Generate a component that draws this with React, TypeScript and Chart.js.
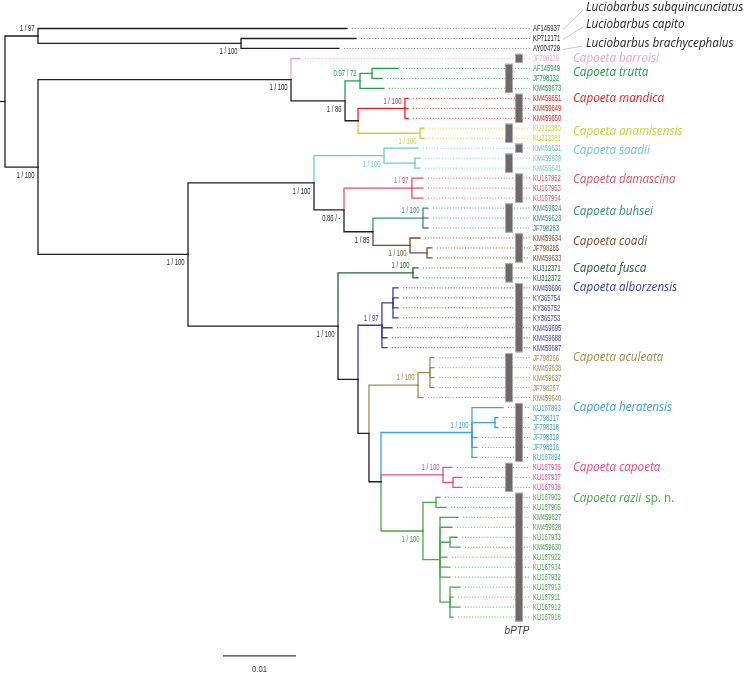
import React, { useEffect, useRef } from "react";
import { Chart, registerables } from "chart.js";
Chart.register(...registerables);

// ---------------- DATA ----------------
const tipNames = [
  "AF145937", "KP712171", "AY004729", "JF798279", "AF145949", "JF798332", "KM459673",
  "KM459651", "KM459649", "KM459650", "KU312380", "KU312381", "KM459631", "KM459639",
  "KM459641", "KU167952", "KU167953", "KU167954", "KM459624", "KM459623", "JF798283",
  "KM459634", "JF798285", "KM459633", "KU312371", "KU312372", "KM459696", "KY365754",
  "KY365752", "KY365753", "KM459695", "KM459688", "KM459687", "JF798266", "KM459638",
  "KM459637", "JF798267", "KM459640", "KU167893", "JF798317", "JF798318", "JF798319",
  "JF798316", "KU167894", "KU167936", "KU167937", "KU167938", "KU167903", "KU167905",
  "KM459627", "KM459628", "KU167933", "KM459630", "KU167922", "KU167934", "KU167932",
  "KU167913", "KU167911", "KU167912", "KU167918",
];

// distance from root (substitutions / site)
const tipDepths = [
  0.04685, 0.04808, 0.04575, 0.04041, 0.05384, 0.05164, 0.05192,
  0.05521, 0.05521, 0.05521, 0.0574, 0.0574, 0.05658, 0.05685,
  0.05685, 0.05726, 0.05726, 0.05726, 0.05795, 0.05795, 0.05795,
  0.05685, 0.05849, 0.05849, 0.05658, 0.05658, 0.05384, 0.05384,
  0.05384, 0.05384, 0.05301, 0.05233, 0.05233, 0.05877, 0.05877,
  0.05877, 0.05877, 0.05726, 0.06822, 0.06753, 0.06753, 0.06466,
  0.06466, 0.06466, 0.06123, 0.0626, 0.0626, 0.05959, 0.06041,
  0.06205, 0.06123, 0.06192, 0.06233, 0.06055, 0.06096, 0.06096,
  0.06233, 0.06137, 0.06233, 0.06137,
];

// clade index per tip (-1 = outgroup / black)
const tipClade = [
  -1, -1, -1, 0, 1, 1, 1, 2, 2, 2, 3, 3, 4, 4, 4, 5, 5, 5, 6, 6, 6, 7, 7, 7, 8, 8,
  9, 9, 9, 9, 9, 9, 9, 10, 10, 10, 10, 10, 11, 11, 11, 11, 11, 11, 12, 12, 12,
  13, 13, 13, 13, 13, 13, 13, 13, 13, 13, 13, 13, 13,
];

// internal nodes n0..n38
const nodeDepths = [
  0, 0.00452, 0.00452, 0.03233, 0.03918, 0.02507, 0.04658, 0.04863, 0.04836, 0.05027,
  0.05479, 0.05685, 0.04233, 0.04562, 0.05192, 0.04644, 0.05616, 0.05575, 0.05041, 0.05726,
  0.05548, 0.05781, 0.05589, 0.04836, 0.05164, 0.04986, 0.05315, 0.05658, 0.05151, 0.05822,
  0.06397, 0.06, 0.05726, 0.06712, 0.06137, 0.05904, 0.05959, 0.06096, 0.06096,
];

const nodeChildren = [
  ["n1", "n2"], ["t0", "n3"], ["n4", "n5"], ["t1", "t2"], ["t3", "n6"], ["n12", "n13"],
  ["n7", "n8"], ["n9", "t6"], ["n10", "n11"], ["t4", "t5"], ["t7", "t8", "t9"], ["t10", "t11"],
  ["n14", "n15"], ["n22", "n23"], ["t12", "n16"], ["n17", "n18"], ["t13", "t14"],
  ["t15", "t16", "t17"], ["n19", "n20"], ["t18", "t19", "t20"], ["t21", "n21"], ["t22", "t23"],
  ["t24", "t25"], ["n24", "n25"], ["n26", "t30", "t31", "t32"], ["n27", "n28"],
  ["t26", "t27", "t28", "t29"], ["n29", "t37"], ["n30", "n31", "n32"], ["t33", "t34", "t35", "t36"],
  ["t38", "n33", "t41", "t42", "t43"], ["t44", "n34"], ["n35", "n36"], ["t39", "t40"],
  ["t45", "t46"], ["t47", "t48"], ["t49", "t50", "n37", "t53", "t54", "t55", "n38"],
  ["t51", "t52"], ["t56", "t57", "t58", "t59"],
];

const nodeSupport = [
  "", "1 / 97", "1 / 100", "1 / 100", "1 / 100", "1 / 100", "1 / 86", "0.97 / 72", "", "",
  "1 / 100", "1 / 100", "1 / 100", "1 / 100", "1 / 100", "0.86 / -", "", "1 / 97", "1 / 85", "1 / 100",
  "1 / 100", "", "1 / 100", "", "1 / 97", "", "", "1 / 100", "", "",
  "1 / 100", "1 / 100", "1 / 100", "", "", "", "", "", "",
];

const nodeClade = [
  -1, -1, -1, -1, -1, -1, -1, 1, -1, 1, 2, 3, -1, -1, 4, -1, 4, 5, -1, 6,
  7, 7, 8, -1, 9, -1, 9, 10, -1, 10, 11, 12, 13, 11, 12, 13, 13, 13, 13,
];

const cladeNames = [
  "Capoeta barroisi", "Capoeta trutta", "Capoeta mandica", "Capoeta anamisensis",
  "Capoeta saadii", "Capoeta damascina", "Capoeta buhsei", "Capoeta coadi",
  "Capoeta fusca", "Capoeta alborzensis", "Capoeta aculeata", "Capoeta heratensis",
  "Capoeta capoeta", "Capoeta razii",
];

const outgroupNames = ["Luciobarbus subquincunciatus", "Luciobarbus capito", "Luciobarbus brachycephalus"];

// bPTP species delimitation blocks (first tip, last tip, column)
const bptpStart = [3, 4, 7, 10, 12, 13, 15, 18, 21, 24, 26, 33, 38, 44, 47];
const bptpEnd = [3, 6, 9, 11, 12, 14, 17, 20, 23, 25, 32, 37, 43, 46, 59];
const bptpColumn = [1, 0, 1, 0, 1, 0, 1, 0, 1, 0, 1, 0, 1, 0, 1];

const scaleBarLength = 0.01;
const scaleBarLabel = "0.01";

// ---------------- STYLE / LAYOUT ----------------
const cladeColors = [
  "#f5a3c3", "#1f9e50", "#ec1f27", "#c8d23c", "#6ecdc8", "#d6566c", "#3c8b86",
  "#7a4b2c", "#27613d", "#3c3fa6", "#a08e52", "#3ea3d2", "#ec4a8c", "#4ca54f",
];
const BLACK = "#231f20";
const X_MIN = -0.000685;
const X_MAX = 0.10288;
const Y_MIN = -2.857;
const Y_MAX = 65.01;
const LEADER_GAP = 0.0007;
const LEADER_END = 0.07192;
const SCALEBAR_X = 0.02986;
const SCALEBAR_ROW = 62.9;
const speciesLabelRow = [3.05, 4.45, 7.05, 10.3, 12.2, 15.1, 18.3, 21.3, 24.1, 26.0, 33.0, 38.0, 44.0, 47.1];
const outgroupLabelRow = [-2.15, -0.45, 1.45];
const supportAbove = [1, 7, 10, 17, 19, 22, 24, 27, 30, 31];

const colorOf = (c: number) => (c < 0 ? BLACK : cladeColors[c]);

// ---------------- TREE GEOMETRY ----------------
function idInfo(id: string) {
  const k = parseInt(id.slice(1), 10);
  return id[0] === "t" ? { tip: true, k } : { tip: false, k };
}
const nodeY: number[] = [];
function yOf(id: string): number {
  const { tip, k } = idInfo(id);
  if (tip) return k;
  if (nodeY[k] !== undefined) return nodeY[k];
  const ch = nodeChildren[k];
  const v = (yOf(ch[0]) + yOf(ch[ch.length - 1])) / 2;
  nodeY[k] = v;
  return v;
}
function depthOf(id: string) {
  const { tip, k } = idInfo(id);
  return tip ? tipDepths[k] : nodeDepths[k];
}
function cladeOfId(id: string) {
  const { tip, k } = idInfo(id);
  return tip ? tipClade[k] : nodeClade[k];
}

function buildDatasets() {
  const ds: any[] = [];
  const rootY = yOf("n0");
  ds.push({
    data: [{ x: X_MIN, y: rootY }, { x: nodeDepths[0], y: rootY }],
    borderColor: BLACK, borderWidth: 1.3, showLine: true, pointRadius: 0,
  });
  nodeChildren.forEach((ch, k) => {
    const nx = nodeDepths[k];
    const ny = yOf("n" + k);
    ch.forEach((c) => {
      const cy = yOf(c);
      const cx = depthOf(c);
      ds.push({
        data: [{ x: nx, y: ny }, { x: nx, y: cy }, { x: cx, y: cy }],
        borderColor: colorOf(cladeOfId(c)), borderWidth: 1.3, showLine: true, pointRadius: 0,
        borderJoinStyle: "miter", borderCapStyle: "square",
      });
    });
  });
  ds.push({
    data: [{ x: SCALEBAR_X, y: SCALEBAR_ROW }, { x: SCALEBAR_X + scaleBarLength, y: SCALEBAR_ROW }],
    borderColor: "#3a3a3a", borderWidth: 1.3, showLine: true, pointRadius: 0,
  });
  tipNames.forEach((_, i) => {
    const c = tipClade[i];
    ds.push({
      data: [{ x: tipDepths[i] + LEADER_GAP, y: i }, { x: LEADER_END, y: i }],
      borderColor: c < 0 ? "#6d6e71" : cladeColors[c], borderWidth: 0.9, borderDash: [1, 1.8],
      showLine: true, pointRadius: 0,
    });
  });
  return ds;
}

function drawText(ctx: CanvasRenderingContext2D, text: string, x: number, y: number, font: string,
  color: string, align: "left" | "right" | "center", sx: number) {
  ctx.save();
  ctx.font = font;
  ctx.fillStyle = color;
  ctx.textBaseline = "middle";
  ctx.textAlign = "left";
  const w = ctx.measureText(text).width * sx;
  const left = align === "left" ? x : align === "right" ? x - w : x - w / 2;
  ctx.translate(left, y);
  ctx.scale(sx, 1);
  ctx.fillText(text, 0, 0);
  ctx.restore();
  return w;
}

const TIP_FONT = '9px "Liberation Sans"';
const SUP_FONT = '8.5px "Liberation Sans"';
const SP_FONT = 'italic 12.5px "Open Sans"';
const SP_FONT_UP = '12.5px "Open Sans"';

const treePlugin = {
  id: "treeText",
  afterDatasetsDraw(chart: any) {
    const ctx: CanvasRenderingContext2D = chart.ctx;
    const xs = chart.scales.x;
    const ys = chart.scales.y;
    ctx.save();
    ctx.font = TIP_FONT;
    const tipSx = 27 / ctx.measureText("AF145937").width;
    ctx.font = SUP_FONT;
    const supSx = 18 / ctx.measureText("1 / 100").width;
    ctx.font = SP_FONT;
    const spSx = 86 / ctx.measureText("Capoeta barroisi").width;

    bptpStart.forEach((s, i) => {
      const top = ys.getPixelForValue(s - 0.46);
      const bot = ys.getPixelForValue(bptpEnd[i] + 0.46);
      const x = bptpColumn[i] === 0 ? 505 : 515;
      ctx.fillStyle = "#6e6a6b";
      ctx.fillRect(x, top, 8, bot - top);
      ctx.strokeStyle = "#bdbbbb";
      ctx.lineWidth = 0.8;
      ctx.strokeRect(x + 0.4, top + 0.4, 7.2, bot - top - 0.8);
    });

    tipNames.forEach((t, i) => {
      drawText(ctx, t, 533, ys.getPixelForValue(i) + 0.5, TIP_FONT, colorOf(tipClade[i]), "left", tipSx);
    });

    nodeSupport.forEach((s, k) => {
      if (!s) return;
      const px = xs.getPixelForValue(nodeDepths[k]) - 3.5;
      const py = ys.getPixelForValue(yOf("n" + k)) + (supportAbove.includes(k) ? -7 : 8.5);
      drawText(ctx, s, px, py, SUP_FONT, colorOf(nodeClade[k]), "right", supSx);
    });

    cladeNames.forEach((nm, c) => {
      const py = ys.getPixelForValue(speciesLabelRow[c]);
      if (nm === "Capoeta razii") {
        const w = drawText(ctx, nm, 573, py, SP_FONT, cladeColors[c], "left", spSx);
        drawText(ctx, " sp. n.", 573 + w + 1, py, SP_FONT_UP, cladeColors[c], "left", spSx);
      } else {
        drawText(ctx, nm, 573, py, SP_FONT, cladeColors[c], "left", spSx);
      }
    });

    outgroupNames.forEach((nm, i) => {
      const py = ys.getPixelForValue(outgroupLabelRow[i]);
      const ty = ys.getPixelForValue(i);
      ctx.strokeStyle = "#b8b8b8";
      ctx.lineWidth = 0.8;
      ctx.beginPath();
      ctx.moveTo(563, ty + 1);
      ctx.lineTo(583, py + 3);
      ctx.stroke();
      drawText(ctx, nm, 586, py, SP_FONT, BLACK, "left", spSx);
    });

    drawText(ctx, scaleBarLabel, xs.getPixelForValue(SCALEBAR_X + scaleBarLength / 2),
      ys.getPixelForValue(SCALEBAR_ROW) + 14, TIP_FONT, "#3a3a3a", "center", 0.85);

    drawText(ctx, "bPTP", 517, ys.getPixelForValue(60.4), 'italic 11px "Liberation Sans"', "#3a3a3a", "center", 0.9);
    ctx.restore();
  },
};

export default function App() {
  const ref = useRef<HTMLCanvasElement>(null);
  useEffect(() => {
    const chart = new Chart(ref.current as HTMLCanvasElement, {
      type: "scatter",
      data: { datasets: buildDatasets() },
      options: {
        animation: false,
        responsive: false,
        maintainAspectRatio: false,
        events: [],
        layout: { padding: 0 },
        plugins: { legend: { display: false }, tooltip: { enabled: false }, title: { display: false } },
        scales: {
          x: { type: "linear", min: X_MIN, max: X_MAX, display: false },
          y: { type: "linear", min: Y_MIN, max: Y_MAX, reverse: true, display: false },
        },
        elements: { point: { radius: 0 }, line: { tension: 0 } },
      },
      plugins: [treePlugin],
    } as any);
    return () => chart.destroy();
  }, []);
  return (
    <div style={{ position: "absolute", left: 0, top: 0, width: 756, height: 677, background: "#fff" }}>
      <canvas ref={ref} width={756} height={677} style={{ display: "block", width: 756, height: 677 }} />
    </div>
  );
}
